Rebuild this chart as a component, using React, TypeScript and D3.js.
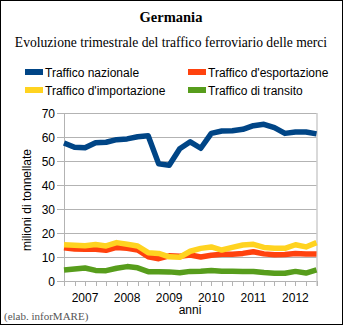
import React from "react";
import * as d3 from "d3";

const years = ["2007", "2008", "2009", "2010", "2011", "2012"];
const yTicks = [0, 10, 20, 30, 40, 50, 60, 70];
const seriesNames = ["Traffico nazionale", "Traffico d'esportazione", "Traffico d'importazione", "Traffico di transito"];
const seriesColors = ["#004586", "#ff420e", "#ffd320", "#579d1c"];

const nazionale = [57.5, 55.7, 55.5, 57.6, 57.8, 58.9, 59.2, 60.1, 60.5, 48.8, 48.2, 55.1, 58.0, 55.3, 61.5, 62.5, 62.6, 63.2, 64.7, 65.3, 63.9, 61.5, 62.1, 62.1, 61.3];
const esportazione = [13.8, 13.3, 13.2, 13.2, 12.8, 14.0, 13.6, 12.9, 10.1, 9.3, 10.5, 10.3, 10.8, 10.0, 10.7, 11.1, 11.1, 11.5, 12.2, 11.3, 10.9, 11.0, 11.5, 11.3, 11.2];
const importazione = [15.1, 14.9, 14.7, 15.2, 14.6, 16.0, 15.3, 14.6, 11.8, 11.5, 10.1, 9.9, 12.4, 13.6, 14.2, 12.9, 14.0, 15.0, 15.3, 14.0, 13.6, 13.6, 15.1, 14.2, 16.0];
const transito = [4.6, 5.0, 5.4, 4.4, 4.3, 5.3, 6.0, 5.5, 3.9, 3.9, 3.8, 3.4, 4.0, 4.1, 4.4, 4.1, 4.1, 4.0, 4.0, 3.5, 3.2, 3.2, 4.0, 3.3, 4.6];

const seriesData = [nazionale, esportazione, importazione, transito];

export default function App() {
  const W = 343, H = 325;
  const left = 64, right = 316.5, top = 113, bottom = 281;
  const n = nazionale.length;
  const x = d3.scaleLinear().domain([0, n - 1]).range([left, right]);
  const y = d3.scaleLinear().domain([0, 70]).range([bottom, top]);
  const line = d3.line<number>().x((_, i) => x(i)).y((d) => y(d));
  const sans = "'Liberation Sans', Arial, sans-serif";
  const serif = "'Liberation Serif', 'Times New Roman', serif";

  const legendPos = [
    { x: 25, y: 72 },
    { x: 188, y: 72 },
    { x: 25, y: 90 },
    { x: 188, y: 90 },
  ];

  return (
    <svg width={W} height={H} style={{ position: "absolute", left: 0, top: 0, display: "block" }}>
      <rect x={0.5} y={0.5} width={W - 1} height={H - 1} fill="#ffffff" stroke="#000000" strokeWidth={1} />
      <text x={171} y={22} textAnchor="middle" fontFamily={serif} fontWeight="bold" fontSize={14.5}>Germania</text>
      <text x={171} y={47} textAnchor="middle" fontFamily={serif} fontSize={13.6}>Evoluzione trimestrale del traffico ferroviario delle merci</text>

      {seriesNames.map((name, i) => (
        <g key={name}>
          <line x1={legendPos[i].x} x2={legendPos[i].x + 18} y1={legendPos[i].y} y2={legendPos[i].y} stroke={seriesColors[i]} strokeWidth={6} />
          <text x={legendPos[i].x + 20} y={legendPos[i].y + 4.5} fontFamily={sans} fontSize={12}>{name}</text>
        </g>
      ))}

      {yTicks.map((t) => (
        <g key={t}>
          <line x1={left - 7} x2={right} y1={Math.round(y(t)) + 0.5} y2={Math.round(y(t)) + 0.5} stroke="#b3b3b3" strokeWidth={1} />
          <text x={55} y={y(t) + 4.5} textAnchor="end" fontFamily={sans} fontSize={12}>{t}</text>
        </g>
      ))}
      <line x1={left + 0.5} x2={left + 0.5} y1={top} y2={bottom + 5} stroke="#b3b3b3" />
      <line x1={right + 0.5} x2={right + 0.5} y1={top} y2={bottom + 5} stroke="#b3b3b3" />
      {d3.range(n).map((i) => (
        <line key={i} x1={Math.round(x(i)) + 0.5} x2={Math.round(x(i)) + 0.5} y1={bottom} y2={bottom + 5} stroke="#b3b3b3" />
      ))}
      {years.map((yr, k) => (
        <text key={yr} x={x(4 * k + 2)} y={302} textAnchor="middle" fontFamily={sans} fontSize={12}>{yr}</text>
      ))}
      <text x={190} y={314} textAnchor="middle" fontFamily={sans} fontSize={12}>anni</text>
      <text transform={`translate(31,200) rotate(-90)`} textAnchor="middle" fontFamily={sans} fontSize={12}>milioni di tonnellate</text>

      {seriesData.map((s, i) => (
        <path key={i} d={line(s) || ""} fill="none" stroke={seriesColors[i]} strokeWidth={5.5} strokeLinejoin="round" strokeLinecap="butt" />
      ))}

      <text x={4} y={320} fontFamily={serif} fontSize={11} fill="#555555">(elab. inforMARE)</text>
    </svg>
  );
}
